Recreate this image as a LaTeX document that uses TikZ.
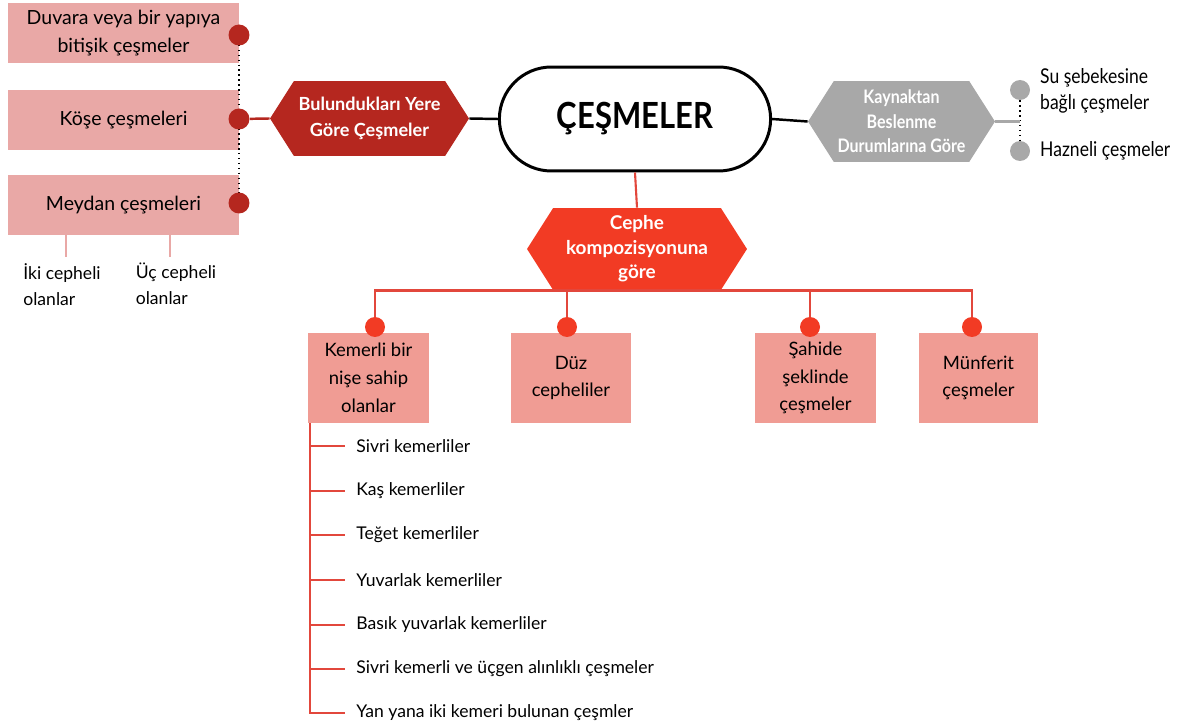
\documentclass[tikz,border=0pt]{standalone}
\usepackage{fontspec}
\setmainfont{Lato}
\newfontfamily\basfont[FakeStretch=0.86]{Lato}
\usepackage{tikz}
\usetikzlibrary{shapes.symbols, shapes.misc, positioning}

\definecolor{koyu}{HTML}{B5271F}
\definecolor{pembe}{HTML}{E9A8A6}
\definecolor{kirmizi}{HTML}{F23B24}
\definecolor{somon}{HTML}{F09C94}
\definecolor{cizgi}{HTML}{E2473C}
\definecolor{gri}{HTML}{A8A8A8}

\begin{document}
\begin{tikzpicture}[x=0.02cm, y=-0.02cm,
    kutu/.style={rectangle, minimum width=4.62cm, minimum height=1.2cm, align=center, font=\fontsize{10.5}{15.8}\selectfont},
    altigen/.style={signal, signal to=east and west, signal pointer angle=115, align=center, text=white, inner sep=1pt},
    nokta/.style={circle, inner sep=0pt, minimum size=0.42cm},
    madde/.style={anchor=west, inner xsep=0.22cm, font=\fontsize{10}{12}\selectfont}]
    \useasboundingbox (0, 0) rectangle (1181, 726);

    \node[kutu, fill=pembe, font=\fontsize{11.1}{15.8}\selectfont] (yer-1) at (123.5, 33) {Duvara veya bir yapıya\\bitişik çeşmeler};
    \node[kutu, fill=pembe, font=\fontsize{11.1}{15.8}\selectfont] (yer-2) at (123.5, 120) {Köşe çeşmeleri};
    \node[kutu, fill=pembe, font=\fontsize{11.1}{15.8}\selectfont] (yer-3) at (123.5, 205) {Meydan çeşmeleri};
    \node[align=left, anchor=north, font=\fontsize{10}{14.8}\selectfont] (iki) at (62, 257) {İki cepheli\\olanlar};
    \node[align=left, anchor=north, font=\fontsize{10}{14.8}\selectfont] (uc) at (176, 257) {Üç cepheli\\olanlar};
    \draw[pembe, line width=1.2pt] (yer-3.south -| 66, 0) -- (iki.north -| 66, 0);
    \draw[pembe, line width=1.2pt] (yer-3.south -| 170, 0) -- (uc.north -| 170, 0);

    \node[altigen, fill=koyu, minimum width=3.98cm, minimum height=1.5cm, font=\bfseries\fontsize{10.3}{15.2}\selectfont] (yer) at (369.5, 118.5) {Bulundukları Yere\\Göre Çeşmeler};
    \node[rounded rectangle, draw, line width=1.7pt, minimum width=5.66cm, minimum height=2.08cm, font=\basfont\bfseries\fontsize{20.5}{22}\selectfont] (ana) at (635, 119) {ÇEŞMELER};
    \node[altigen, fill=gri, minimum width=3.74cm, minimum height=1.62cm, font=\basfont\bfseries\fontsize{10.6}{14}\selectfont] (kay) at (901.5, 121.5) {Kaynaktan\\Beslenme\\Durumlarına Göre};
    \node[altigen, fill=kirmizi, minimum width=4.4cm, minimum height=1.64cm, font=\bfseries\fontsize{10.8}{14}\selectfont] (cep) at (637, 249) {Cephe\\kompozisyonuna\\göre};

    \draw[dotted, thick] (239, 35) -- (239, 203);
    \foreach \i/\y in {1/35, 2/119, 3/203}
        \node[nokta, fill=koyu] (yd-\i) at (239, \y) {};
    \draw[koyu, line width=1.4pt] (yd-2) -- (yer.west);
    \draw[line width=1.4pt] (yer.east) -- (ana.west);
    \draw[line width=1.4pt] (ana.east) -- (kay.west);

    \node[nokta, fill=gri, minimum size=0.4cm] (kd-1) at (1020, 90) {};
    \node[nokta, fill=gri, minimum size=0.4cm] (kd-2) at (1020, 151) {};
    \draw[dotted, thick] (kd-1) -- (kd-2);
    \draw[gri, line width=1.2pt] (kay.east) -- (kay.east -| kd-1);
    \node[anchor=west, align=left, font=\basfont\fontsize{11.6}{14.6}\selectfont] (su) at (1034, 91) {Su şebekesine\\bağlı çeşmeler};
    \node[anchor=west, font=\basfont\fontsize{11.6}{14}\selectfont] (hz) at (1034, 151) {Hazneli çeşmeler};

    \draw[cizgi, line width=1.2pt] (ana.south) -- (cep.north);

    \node[kutu, fill=somon, minimum width=2.42cm, minimum height=1.8cm] (c-1) at (368.5, 378) {Kemerli bir\\nişe sahip\\olanlar};
    \node[kutu, fill=somon, minimum width=2.4cm, minimum height=1.8cm] (c-2) at (571, 378) {Düz\\cepheliler};
    \node[kutu, fill=somon, minimum width=2.42cm, minimum height=1.8cm] (c-3) at (815.5, 378) {Şahide\\şeklinde\\çeşmeler};
    \node[kutu, fill=somon, minimum width=2.38cm, minimum height=1.8cm] (c-4) at (978.5, 378) {Münferit\\çeşmeler};
    \foreach \i/\x in {1/375, 2/567, 3/810, 4/972} {
        \draw[cizgi, line width=1.4pt] (cep.south) -| (\x, 327);
        \node[nokta, fill=kirmizi, minimum size=0.4cm] (cd-\i) at (\x, 327) {};
    }

    \foreach \i/\y/\t in {1/446/Sivri kemerliler, 2/491/Kaş kemerliler, 3/535/Teğet kemerliler,
        4/580/Yuvarlak kemerliler, 5/625/Basık yuvarlak kemerliler,
        6/669/Sivri kemerli ve üçgen alınlıklı çeşmeler, 7/713/Yan yana iki kemeri bulunan çeşmler} {
        \node[madde] (k-\i) at (345, \y) {\t};
        \draw[cizgi, line width=1.2pt] ([xshift=0.04cm]c-1.south west) |- (k-\i.west);
    }
\end{tikzpicture}
\end{document}
